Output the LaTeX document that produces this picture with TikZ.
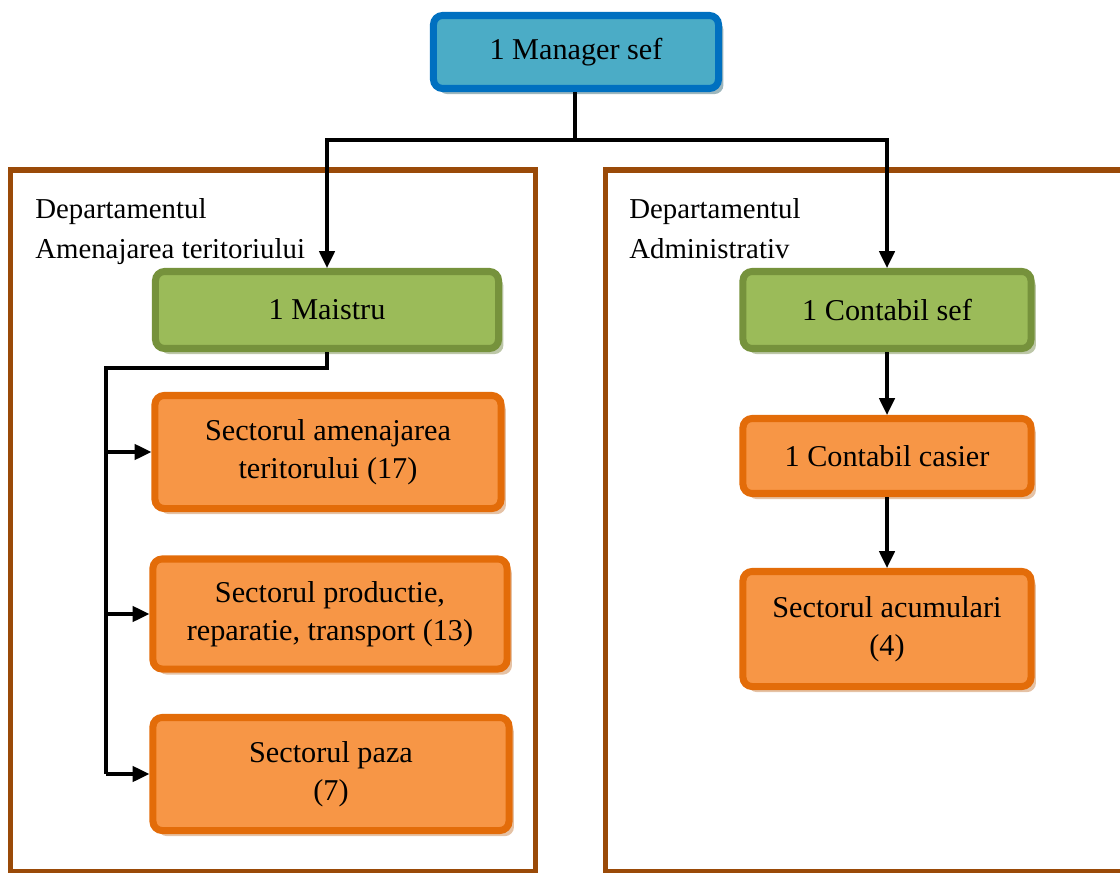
\documentclass[tikz,border=0pt]{standalone}
\usepackage{fontspec}
\setmainfont{Liberation Serif}
\usepackage{xcolor}
\usetikzlibrary{arrows.meta, positioning, shadows}

\definecolor{mgrfill}{HTML}{4BACC6}
\definecolor{mgrline}{HTML}{0070C0}
\definecolor{grnfill}{HTML}{9BBB59}
\definecolor{grnline}{HTML}{76923C}
\definecolor{orgfill}{HTML}{F79646}
\definecolor{orgline}{HTML}{E36C09}
\definecolor{deptline}{HTML}{9A4A08}

\begin{document}
\begin{tikzpicture}[x=0.025cm, y=-0.025cm,
    font=\fontsize{21.5}{27}\selectfont,
    card/.style={rounded corners=6.5pt, line width=5pt, align=center, inner sep=2pt},
    mgrcard/.style={card, draw=mgrline, fill=mgrfill,
      drop shadow={shadow xshift=3.5pt, shadow yshift=-4pt, fill=black!45!mgrfill, opacity=.45}},
    grncard/.style={card, draw=grnline, fill=grnfill,
      drop shadow={shadow xshift=3.5pt, shadow yshift=-4pt, fill=black!30!grnfill, opacity=.45}},
    orgcard/.style={card, draw=orgline, fill=orgfill,
      drop shadow={shadow xshift=3.5pt, shadow yshift=-4pt, fill=black!20!orgfill, opacity=.45}},
    link/.style={line width=2.2pt},
    arr/.style={link, -{Triangle[width=11pt, length=12pt]}},
    dept/.style={line width=3.6pt, draw=deptline},
    deptlabel/.style={anchor=north west, inner sep=0pt, align=left,
      font=\fontsize{20.5}{28.5}\selectfont}]

  \useasboundingbox (0,0) rectangle (1120,873);

  % Departments
  \draw[dept] (10.5,170) rectangle (535.5,872);
  \draw[dept] (605.5,170) rectangle (1135,872);
  \node[deptlabel] (deptleft) at (35,198) {Departamentul\\Amenajarea teritoriului};
  \node[deptlabel] (deptright) at (629,198) {Departamentul\\Administrativ};

  % Boxes
  \node[mgrcard, minimum width=7.125cm, minimum height=1.825cm] (mgr) at (576,52) {1 Manager sef};
  \node[grncard, minimum width=8.575cm, minimum height=1.925cm] (maistru) at (327,310) {1 Maistru};
  \node[grncard, minimum width=7.2cm, minimum height=1.925cm] (csef) at (887,310) {1 Contabil sef};
  \node[orgcard, minimum width=8.65cm, minimum height=2.825cm] (amenaj) at (328,452) {Sectorul amenajarea\\teritorului (17)};
  \node[orgcard, minimum width=8.85cm, minimum height=2.75cm] (product) at (330,614) {Sectorul productie,\\reparatie, transport (13)};
  \node[orgcard, minimum width=8.9cm, minimum height=2.825cm] (paza) at (331,774) {Sectorul paza\\(7)};
  \node[orgcard, minimum width=7.2cm, minimum height=1.875cm] (casier) at (887,456) {1 Contabil casier};
  \node[orgcard, minimum width=7.2cm, minimum height=2.875cm] (acum) at (887,629) {Sectorul acumulari\\(4)};

  % Connectors
  \coordinate (split) at (575,140);
  \coordinate (bus) at (106,368);
  \draw[link] (mgr.south -| split) -- (split);
  \draw[arr] (split) -| (maistru.north);
  \draw[arr] (split) -| (csef.north);

  \draw[link] (maistru.south) |- (bus) -- (bus |- paza.west);
  \draw[arr] (bus |- amenaj.west) -- (amenaj.west);
  \draw[arr] (bus |- product.west) -- (product.west);
  \draw[arr] (bus |- paza.west) -- (paza.west);

  \draw[arr] (csef.south) -- (casier.north);
  \draw[arr] (casier.south) -- (acum.north);
\end{tikzpicture}
\end{document}
